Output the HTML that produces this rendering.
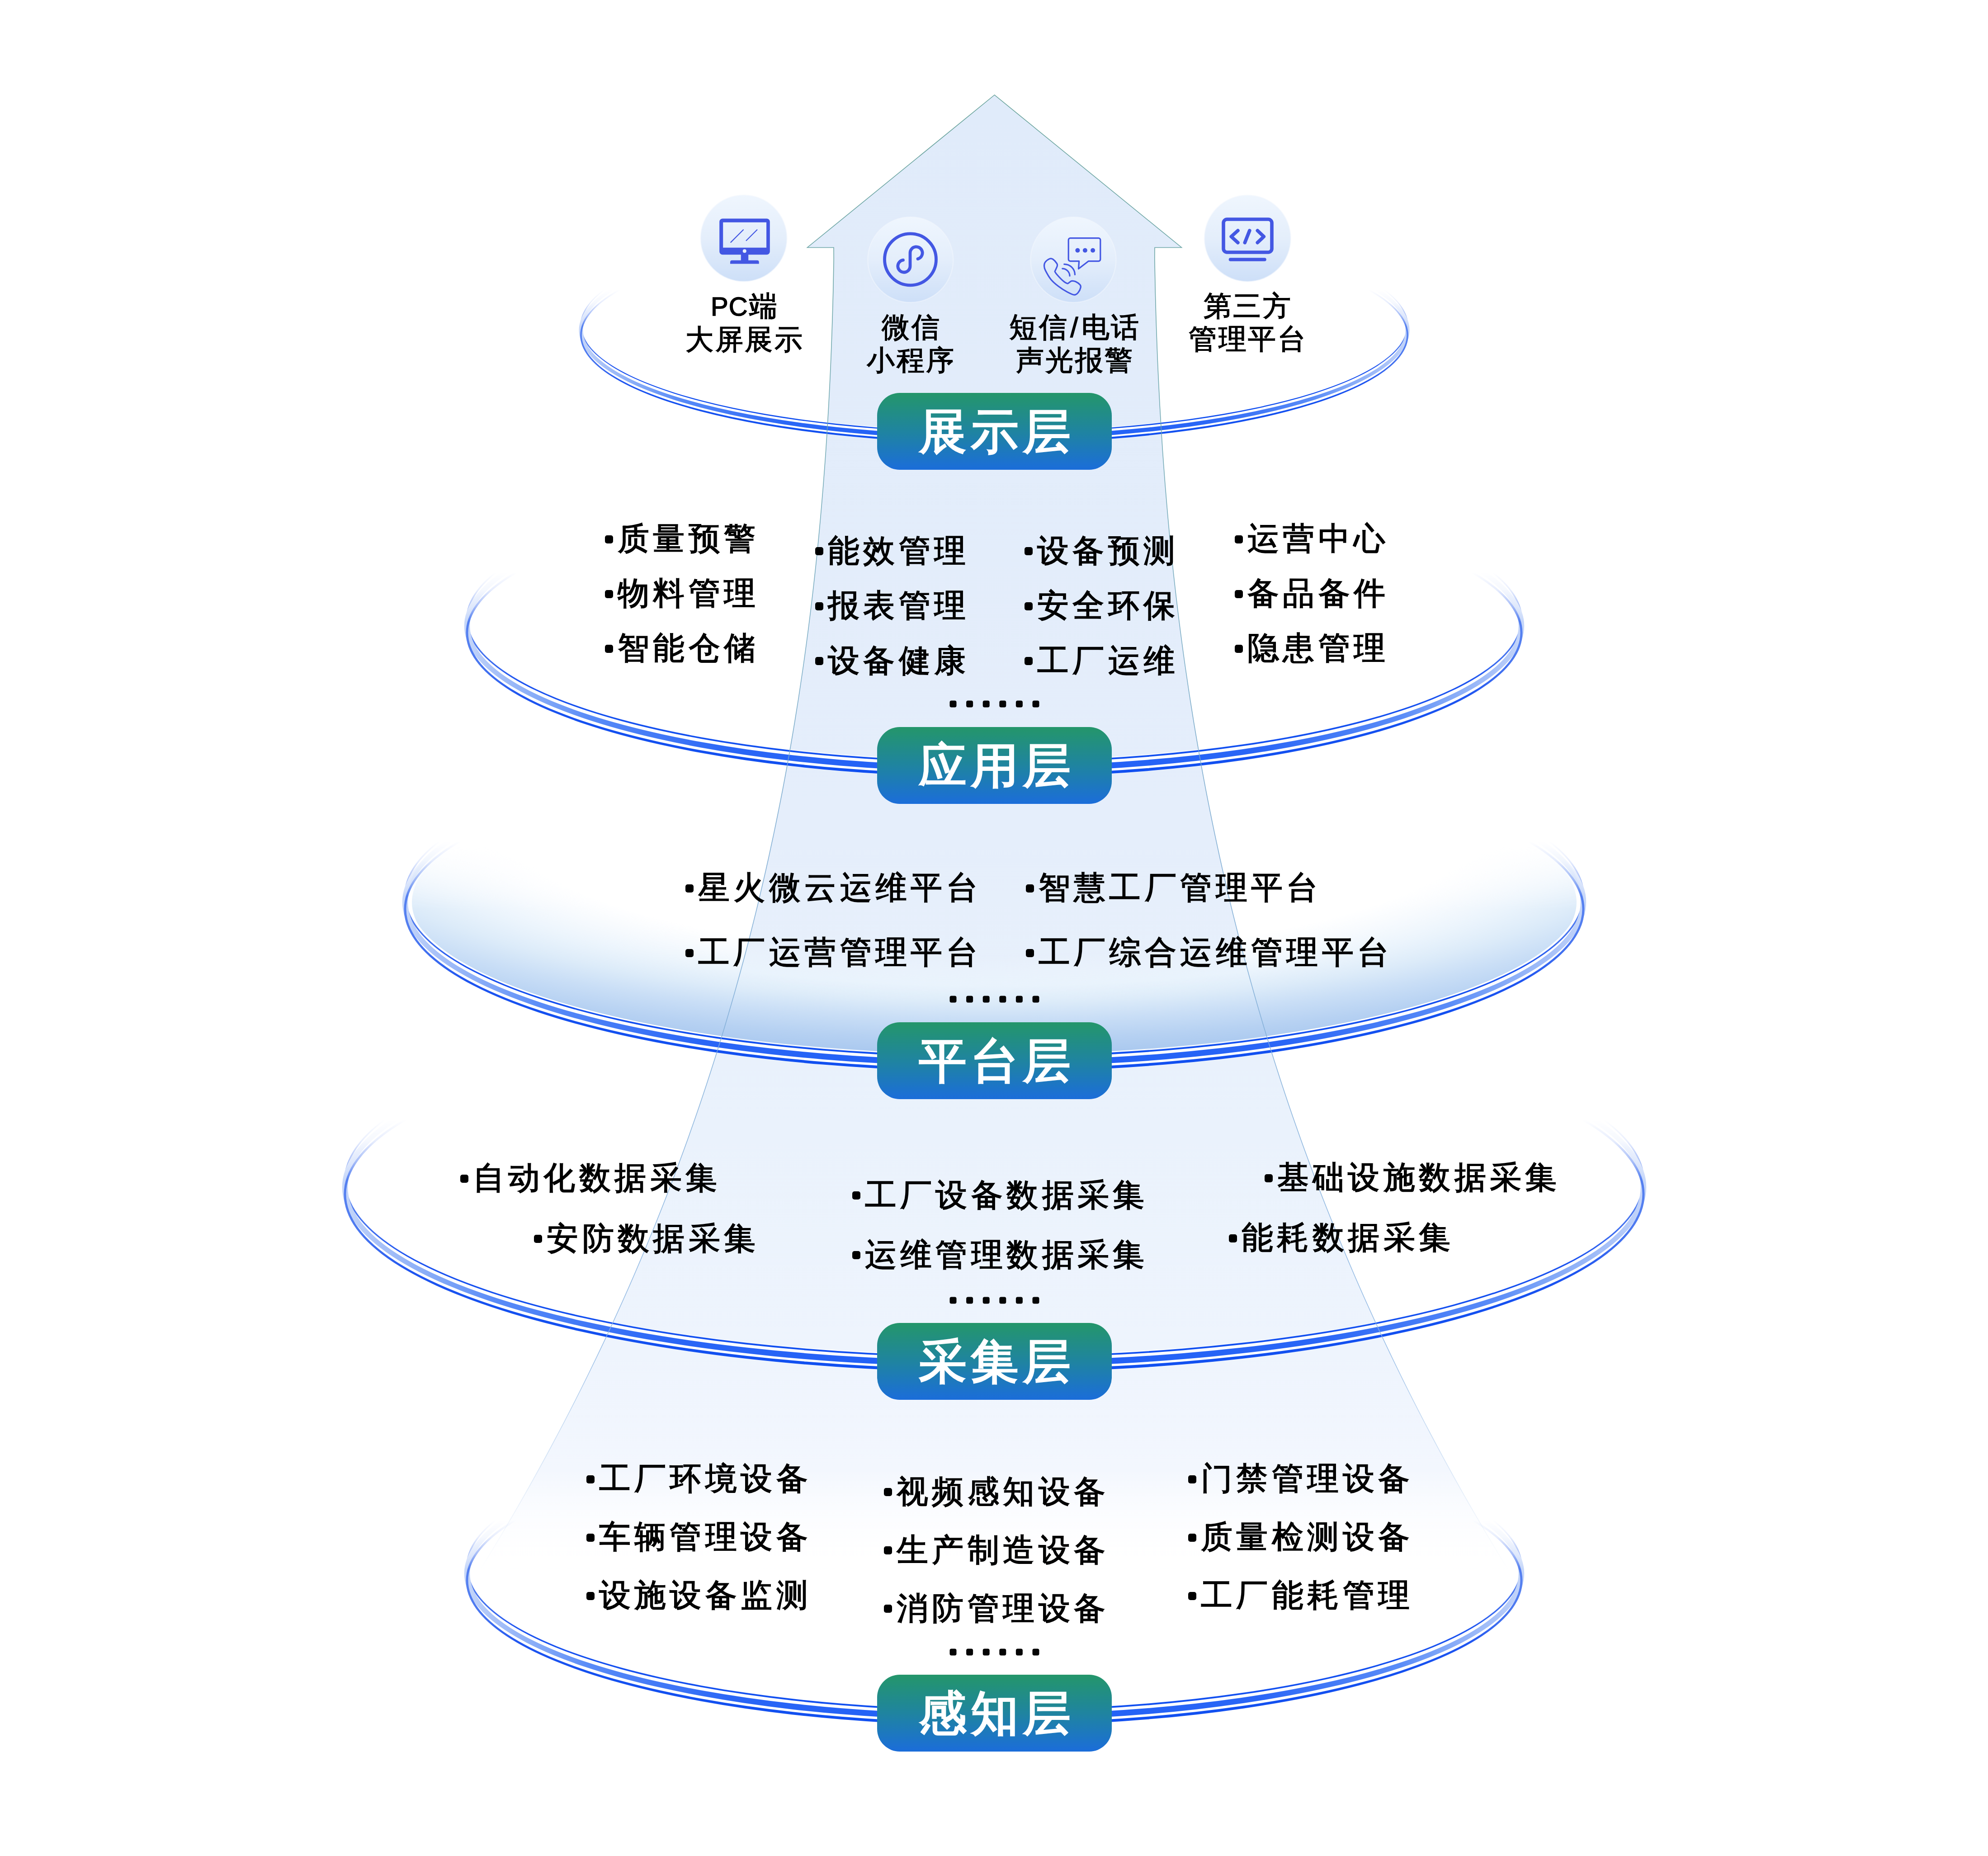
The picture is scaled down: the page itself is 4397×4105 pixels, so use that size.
<!DOCTYPE html>
<html><head><meta charset="utf-8"><style>
html,body{margin:0;padding:0;background:#fff;width:4397px;height:4105px;overflow:hidden;position:relative;font-family:"Liberation Sans",sans-serif;}
.li{position:absolute;white-space:nowrap;font-size:70px;line-height:100px;height:100px;margin-top:-52px;font-weight:400;letter-spacing:8.4px;color:#000;-webkit-text-stroke:1.8px #000;}
.li i{display:inline-block;width:18px;height:18px;border-radius:5px;background:#000;vertical-align:middle;margin-right:10px;position:relative;top:-4px;-webkit-text-stroke:0}
.bt{position:absolute;text-align:center;font-size:106px;line-height:170px;font-weight:700;color:#fff;letter-spacing:9px;}
.lab{position:absolute;width:400px;text-align:center;font-size:62px;line-height:73px;font-weight:400;letter-spacing:3.5px;color:#000;-webkit-text-stroke:1.5px #000;}
</style></head><body>
<svg xmlns="http://www.w3.org/2000/svg" width="4397" height="4105" viewBox="0 0 4397 4105" style="position:absolute;left:0;top:0"><defs><linearGradient id="arrF" x1="0" y1="210" x2="0" y2="3480" gradientUnits="userSpaceOnUse">
<stop offset="0" stop-color="#e0ebfa"/><stop offset="0.5" stop-color="#e5eefb"/><stop offset="0.7" stop-color="#eaf2fc"/><stop offset="0.85" stop-color="#eef4fd"/><stop offset="0.93" stop-color="#f3f7fe"/><stop offset="1" stop-color="#ffffff" stop-opacity="0"/></linearGradient>
<linearGradient id="arrS" x1="0" y1="210" x2="0" y2="3480" gradientUnits="userSpaceOnUse">
<stop offset="0" stop-color="#5a9a90"/><stop offset="0.25" stop-color="#6aa4b0"/><stop offset="0.5" stop-color="#7aa9d0"/><stop offset="0.85" stop-color="#8db6e3"/><stop offset="1" stop-color="#cfe0f5" stop-opacity="0"/></linearGradient>
<radialGradient id="discF" gradientUnits="userSpaceOnUse" cx="2199" cy="1820" r="530" gradientTransform="translate(2199 1820) scale(3.679 1) translate(-2199 -1820)">
<stop offset="0" stop-color="#eef5fd" stop-opacity="0"/><stop offset="0.55" stop-color="#eef5fd" stop-opacity="0"/><stop offset="0.68" stop-color="#e9f3fc" stop-opacity="0.9"/><stop offset="0.75" stop-color="#dcebf9"/><stop offset="0.82" stop-color="#c9def6"/><stop offset="0.9" stop-color="#b6d1f2"/><stop offset="0.97" stop-color="#a9c8ef"/><stop offset="1" stop-color="#a8c8ef"/></radialGradient>
<linearGradient id="discM" x1="0" y1="1870" x2="0" y2="2010" gradientUnits="userSpaceOnUse"><stop offset="0" stop-color="#fff" stop-opacity="0"/><stop offset="1" stop-color="#fff" stop-opacity="1"/></linearGradient>
<mask id="discMask" maskUnits="userSpaceOnUse" x="0" y="0" width="4397" height="4105"><rect x="0" y="0" width="4397" height="4105" fill="url(#discM)"/></mask>
<linearGradient id="fade0" x1="0" y1="641" x2="0" y2="722" gradientUnits="userSpaceOnUse">
<stop offset="0" stop-color="#fff" stop-opacity="0"/><stop offset="0.35" stop-color="#fff" stop-opacity="0.12"/><stop offset="0.7" stop-color="#fff" stop-opacity="0.5"/><stop offset="1" stop-color="#fff" stop-opacity="1"/></linearGradient>
<mask id="m0" maskUnits="userSpaceOnUse" x="0" y="0" width="4397" height="4105"><rect x="0" y="0" width="4397" height="4105" fill="url(#fade0)"/></mask>
<linearGradient id="band0" x1="1285" y1="0" x2="3113" y2="0" gradientUnits="userSpaceOnUse">
<stop offset="0" stop-color="#c5d6f9"/><stop offset="0.025" stop-color="#a9c2f8"/><stop offset="0.075" stop-color="#7fa6f7"/><stop offset="0.115" stop-color="#5a8cf7"/><stop offset="0.25" stop-color="#2a66f6"/><stop offset="0.5" stop-color="#1f5ff6"/><stop offset="0.75" stop-color="#2a66f6"/><stop offset="0.885" stop-color="#5a8cf7"/><stop offset="0.925" stop-color="#7fa6f7"/><stop offset="0.975" stop-color="#a9c2f8"/><stop offset="1" stop-color="#c5d6f9"/></linearGradient>
<linearGradient id="ln0" x1="1285" y1="0" x2="3113" y2="0" gradientUnits="userSpaceOnUse">
<stop offset="0" stop-color="#5580f0"/><stop offset="0.05" stop-color="#1f55f0"/><stop offset="0.115" stop-color="#1450f0"/><stop offset="0.5" stop-color="#1050f0"/><stop offset="0.885" stop-color="#1450f0"/><stop offset="0.95" stop-color="#1f55f0"/><stop offset="1" stop-color="#5580f0"/></linearGradient>

<linearGradient id="fade1" x1="0" y1="1266" x2="0" y2="1374" gradientUnits="userSpaceOnUse">
<stop offset="0" stop-color="#fff" stop-opacity="0"/><stop offset="0.35" stop-color="#fff" stop-opacity="0.12"/><stop offset="0.7" stop-color="#fff" stop-opacity="0.5"/><stop offset="1" stop-color="#fff" stop-opacity="1"/></linearGradient>
<mask id="m1" maskUnits="userSpaceOnUse" x="0" y="0" width="4397" height="4105"><rect x="0" y="0" width="4397" height="4105" fill="url(#fade1)"/></mask>
<linearGradient id="band1" x1="1033" y1="0" x2="3365" y2="0" gradientUnits="userSpaceOnUse">
<stop offset="0" stop-color="#c5d6f9"/><stop offset="0.025" stop-color="#a9c2f8"/><stop offset="0.075" stop-color="#7fa6f7"/><stop offset="0.115" stop-color="#5a8cf7"/><stop offset="0.25" stop-color="#2a66f6"/><stop offset="0.5" stop-color="#1f5ff6"/><stop offset="0.75" stop-color="#2a66f6"/><stop offset="0.885" stop-color="#5a8cf7"/><stop offset="0.925" stop-color="#7fa6f7"/><stop offset="0.975" stop-color="#a9c2f8"/><stop offset="1" stop-color="#c5d6f9"/></linearGradient>
<linearGradient id="ln1" x1="1033" y1="0" x2="3365" y2="0" gradientUnits="userSpaceOnUse">
<stop offset="0" stop-color="#5580f0"/><stop offset="0.05" stop-color="#1f55f0"/><stop offset="0.115" stop-color="#1450f0"/><stop offset="0.5" stop-color="#1050f0"/><stop offset="0.885" stop-color="#1450f0"/><stop offset="0.95" stop-color="#1f55f0"/><stop offset="1" stop-color="#5580f0"/></linearGradient>

<linearGradient id="fade2" x1="0" y1="1861" x2="0" y2="1982" gradientUnits="userSpaceOnUse">
<stop offset="0" stop-color="#fff" stop-opacity="0"/><stop offset="0.35" stop-color="#fff" stop-opacity="0.12"/><stop offset="0.7" stop-color="#fff" stop-opacity="0.5"/><stop offset="1" stop-color="#fff" stop-opacity="1"/></linearGradient>
<mask id="m2" maskUnits="userSpaceOnUse" x="0" y="0" width="4397" height="4105"><rect x="0" y="0" width="4397" height="4105" fill="url(#fade2)"/></mask>
<linearGradient id="band2" x1="896" y1="0" x2="3502" y2="0" gradientUnits="userSpaceOnUse">
<stop offset="0" stop-color="#c5d6f9"/><stop offset="0.025" stop-color="#a9c2f8"/><stop offset="0.075" stop-color="#7fa6f7"/><stop offset="0.115" stop-color="#5a8cf7"/><stop offset="0.25" stop-color="#2a66f6"/><stop offset="0.5" stop-color="#1f5ff6"/><stop offset="0.75" stop-color="#2a66f6"/><stop offset="0.885" stop-color="#5a8cf7"/><stop offset="0.925" stop-color="#7fa6f7"/><stop offset="0.975" stop-color="#a9c2f8"/><stop offset="1" stop-color="#c5d6f9"/></linearGradient>
<linearGradient id="ln2" x1="896" y1="0" x2="3502" y2="0" gradientUnits="userSpaceOnUse">
<stop offset="0" stop-color="#5580f0"/><stop offset="0.05" stop-color="#1f55f0"/><stop offset="0.115" stop-color="#1450f0"/><stop offset="0.5" stop-color="#1050f0"/><stop offset="0.885" stop-color="#1450f0"/><stop offset="0.95" stop-color="#1f55f0"/><stop offset="1" stop-color="#5580f0"/></linearGradient>

<linearGradient id="fade3" x1="0" y1="2477" x2="0" y2="2610" gradientUnits="userSpaceOnUse">
<stop offset="0" stop-color="#fff" stop-opacity="0"/><stop offset="0.35" stop-color="#fff" stop-opacity="0.12"/><stop offset="0.7" stop-color="#fff" stop-opacity="0.5"/><stop offset="1" stop-color="#fff" stop-opacity="1"/></linearGradient>
<mask id="m3" maskUnits="userSpaceOnUse" x="0" y="0" width="4397" height="4105"><rect x="0" y="0" width="4397" height="4105" fill="url(#fade3)"/></mask>
<linearGradient id="band3" x1="763" y1="0" x2="3635" y2="0" gradientUnits="userSpaceOnUse">
<stop offset="0" stop-color="#c5d6f9"/><stop offset="0.025" stop-color="#a9c2f8"/><stop offset="0.075" stop-color="#7fa6f7"/><stop offset="0.115" stop-color="#5a8cf7"/><stop offset="0.25" stop-color="#2a66f6"/><stop offset="0.5" stop-color="#1f5ff6"/><stop offset="0.75" stop-color="#2a66f6"/><stop offset="0.885" stop-color="#5a8cf7"/><stop offset="0.925" stop-color="#7fa6f7"/><stop offset="0.975" stop-color="#a9c2f8"/><stop offset="1" stop-color="#c5d6f9"/></linearGradient>
<linearGradient id="ln3" x1="763" y1="0" x2="3635" y2="0" gradientUnits="userSpaceOnUse">
<stop offset="0" stop-color="#5580f0"/><stop offset="0.05" stop-color="#1f55f0"/><stop offset="0.115" stop-color="#1450f0"/><stop offset="0.5" stop-color="#1050f0"/><stop offset="0.885" stop-color="#1450f0"/><stop offset="0.95" stop-color="#1f55f0"/><stop offset="1" stop-color="#5580f0"/></linearGradient>

<linearGradient id="fade4" x1="0" y1="3362" x2="0" y2="3470" gradientUnits="userSpaceOnUse">
<stop offset="0" stop-color="#fff" stop-opacity="0"/><stop offset="0.35" stop-color="#fff" stop-opacity="0.12"/><stop offset="0.7" stop-color="#fff" stop-opacity="0.5"/><stop offset="1" stop-color="#fff" stop-opacity="1"/></linearGradient>
<mask id="m4" maskUnits="userSpaceOnUse" x="0" y="0" width="4397" height="4105"><rect x="0" y="0" width="4397" height="4105" fill="url(#fade4)"/></mask>
<linearGradient id="band4" x1="1033" y1="0" x2="3365" y2="0" gradientUnits="userSpaceOnUse">
<stop offset="0" stop-color="#c5d6f9"/><stop offset="0.025" stop-color="#a9c2f8"/><stop offset="0.075" stop-color="#7fa6f7"/><stop offset="0.115" stop-color="#5a8cf7"/><stop offset="0.25" stop-color="#2a66f6"/><stop offset="0.5" stop-color="#1f5ff6"/><stop offset="0.75" stop-color="#2a66f6"/><stop offset="0.885" stop-color="#5a8cf7"/><stop offset="0.925" stop-color="#7fa6f7"/><stop offset="0.975" stop-color="#a9c2f8"/><stop offset="1" stop-color="#c5d6f9"/></linearGradient>
<linearGradient id="ln4" x1="1033" y1="0" x2="3365" y2="0" gradientUnits="userSpaceOnUse">
<stop offset="0" stop-color="#5580f0"/><stop offset="0.05" stop-color="#1f55f0"/><stop offset="0.115" stop-color="#1450f0"/><stop offset="0.5" stop-color="#1050f0"/><stop offset="0.885" stop-color="#1450f0"/><stop offset="0.95" stop-color="#1f55f0"/><stop offset="1" stop-color="#5580f0"/></linearGradient>

<linearGradient id="icF" x1="0" y1="0" x2="0" y2="1">
<stop offset="0" stop-color="#eff6fe"/><stop offset="0.5" stop-color="#e4eefb"/><stop offset="1" stop-color="#cddff8"/></linearGradient>
<linearGradient id="bdg" x1="0" y1="0" x2="0" y2="1">
<stop offset="0" stop-color="#24966a"/><stop offset="0.5" stop-color="#1f84a0"/><stop offset="1" stop-color="#1b6dda"/></linearGradient></defs><path d="M 2199.6 210.0 L 1785.5 547.5 L 1844.0 547.5 L 1844.2 572.0 L 1843.7 597.0 L 1843.2 622.0 L 1842.7 647.0 L 1842.0 672.0 L 1841.3 697.0 L 1840.5 722.0 L 1839.6 747.0 L 1838.7 772.0 L 1837.7 797.0 L 1836.6 822.0 L 1835.4 847.0 L 1834.1 872.0 L 1832.8 897.0 L 1831.3 922.0 L 1829.8 947.0 L 1828.2 972.0 L 1826.6 997.0 L 1824.8 1022.0 L 1822.9 1047.0 L 1821.0 1072.0 L 1818.9 1097.0 L 1816.8 1122.0 L 1814.6 1147.0 L 1812.3 1172.0 L 1809.9 1197.0 L 1807.4 1222.0 L 1804.8 1247.0 L 1802.1 1272.0 L 1799.3 1297.0 L 1796.4 1322.0 L 1793.4 1347.0 L 1790.3 1372.0 L 1787.1 1397.0 L 1783.8 1422.0 L 1780.4 1447.0 L 1776.9 1472.0 L 1773.2 1497.0 L 1769.5 1522.0 L 1765.7 1547.0 L 1761.7 1572.0 L 1757.7 1597.0 L 1753.5 1622.0 L 1749.2 1647.0 L 1744.8 1672.0 L 1740.3 1697.0 L 1735.7 1722.0 L 1731.0 1747.0 L 1726.1 1772.0 L 1721.1 1797.0 L 1716.0 1822.0 L 1710.8 1847.0 L 1705.4 1872.0 L 1700.0 1897.0 L 1694.4 1922.0 L 1688.7 1947.0 L 1682.8 1972.0 L 1676.9 1997.0 L 1670.8 2022.0 L 1664.5 2047.0 L 1658.2 2072.0 L 1651.7 2097.0 L 1645.1 2122.0 L 1638.3 2147.0 L 1631.4 2172.0 L 1624.4 2197.0 L 1617.2 2222.0 L 1609.9 2247.0 L 1602.5 2272.0 L 1594.9 2297.0 L 1587.2 2322.0 L 1579.3 2347.0 L 1571.3 2372.0 L 1563.2 2397.0 L 1554.9 2422.0 L 1546.5 2447.0 L 1537.9 2472.0 L 1529.1 2497.0 L 1520.3 2522.0 L 1511.2 2547.0 L 1502.0 2572.0 L 1492.7 2597.0 L 1483.2 2622.0 L 1473.6 2647.0 L 1463.8 2672.0 L 1453.8 2697.0 L 1443.7 2722.0 L 1433.4 2747.0 L 1423.0 2772.0 L 1412.4 2797.0 L 1401.7 2822.0 L 1390.8 2847.0 L 1379.7 2872.0 L 1368.4 2897.0 L 1357.0 2922.0 L 1345.5 2947.0 L 1333.7 2972.0 L 1321.8 2997.0 L 1309.7 3022.0 L 1297.5 3047.0 L 1285.1 3072.0 L 1272.5 3097.0 L 1259.7 3122.0 L 1246.8 3147.0 L 1233.6 3172.0 L 1220.3 3197.0 L 1206.9 3222.0 L 1193.2 3247.0 L 1179.4 3272.0 L 1165.4 3297.0 L 1151.2 3322.0 L 1136.8 3347.0 L 1122.2 3372.0 L 1107.5 3397.0 L 1092.5 3422.0 L 1077.4 3447.0 L 1063.3 3470.0 L 3334.7 3470.0 L 3334.7 3470.0 L 3320.6 3447.0 L 3305.5 3422.0 L 3290.5 3397.0 L 3275.8 3372.0 L 3261.2 3347.0 L 3246.8 3322.0 L 3232.6 3297.0 L 3218.6 3272.0 L 3204.8 3247.0 L 3191.1 3222.0 L 3177.7 3197.0 L 3164.4 3172.0 L 3151.2 3147.0 L 3138.3 3122.0 L 3125.5 3097.0 L 3112.9 3072.0 L 3100.5 3047.0 L 3088.3 3022.0 L 3076.2 2997.0 L 3064.3 2972.0 L 3052.5 2947.0 L 3041.0 2922.0 L 3029.6 2897.0 L 3018.3 2872.0 L 3007.2 2847.0 L 2996.3 2822.0 L 2985.6 2797.0 L 2975.0 2772.0 L 2964.6 2747.0 L 2954.3 2722.0 L 2944.2 2697.0 L 2934.2 2672.0 L 2924.4 2647.0 L 2914.8 2622.0 L 2905.3 2597.0 L 2896.0 2572.0 L 2886.8 2547.0 L 2877.7 2522.0 L 2868.9 2497.0 L 2860.1 2472.0 L 2851.5 2447.0 L 2843.1 2422.0 L 2834.8 2397.0 L 2826.7 2372.0 L 2818.7 2347.0 L 2810.8 2322.0 L 2803.1 2297.0 L 2795.5 2272.0 L 2788.1 2247.0 L 2780.8 2222.0 L 2773.6 2197.0 L 2766.6 2172.0 L 2759.7 2147.0 L 2752.9 2122.0 L 2746.3 2097.0 L 2739.8 2072.0 L 2733.5 2047.0 L 2727.2 2022.0 L 2721.1 1997.0 L 2715.2 1972.0 L 2709.3 1947.0 L 2703.6 1922.0 L 2698.0 1897.0 L 2692.6 1872.0 L 2687.2 1847.0 L 2682.0 1822.0 L 2676.9 1797.0 L 2671.9 1772.0 L 2667.0 1747.0 L 2662.3 1722.0 L 2657.7 1697.0 L 2653.2 1672.0 L 2648.8 1647.0 L 2644.5 1622.0 L 2640.3 1597.0 L 2636.3 1572.0 L 2632.3 1547.0 L 2628.5 1522.0 L 2624.8 1497.0 L 2621.1 1472.0 L 2617.6 1447.0 L 2614.2 1422.0 L 2610.9 1397.0 L 2607.7 1372.0 L 2604.6 1347.0 L 2601.6 1322.0 L 2598.7 1297.0 L 2595.9 1272.0 L 2593.2 1247.0 L 2590.6 1222.0 L 2588.1 1197.0 L 2585.7 1172.0 L 2583.4 1147.0 L 2581.2 1122.0 L 2579.1 1097.0 L 2577.0 1072.0 L 2575.1 1047.0 L 2573.2 1022.0 L 2571.4 997.0 L 2569.8 972.0 L 2568.2 947.0 L 2566.7 922.0 L 2565.2 897.0 L 2563.9 872.0 L 2562.6 847.0 L 2561.4 822.0 L 2560.3 797.0 L 2559.3 772.0 L 2558.4 747.0 L 2557.5 722.0 L 2556.7 697.0 L 2556.0 672.0 L 2555.3 647.0 L 2554.8 622.0 L 2554.3 597.0 L 2553.8 572.0 L 2554.0 547.5 L 2613.5 547.5 Z" fill="url(#arrF)"/>
<ellipse cx="2199" cy="1980.6" rx="1296" ry="351.3" fill="url(#discF)" mask="url(#discMask)"/>
<g mask="url(#m0)">
<path fill-rule="evenodd" fill="#ffffff" d="M 1274.20 730.20 A 924.80 250.68 0 1 0 3123.80 730.20 A 924.80 250.68 0 1 0 1274.20 730.20 Z M 1295.80 730.20 A 903.20 223.32 0 1 1 3102.20 730.20 A 903.20 223.32 0 1 1 1295.80 730.20 Z"/>
<path fill-rule="evenodd" fill="url(#ln0)" d="M 1283.70 719.40 A 915.30 238.44 0 1 0 3114.30 719.40 A 915.30 238.44 0 1 0 1283.70 719.40 Z M 1286.30 719.40 A 912.70 235.56 0 1 1 3111.70 719.40 A 912.70 235.56 0 1 1 1286.30 719.40 Z"/>
<path fill-rule="evenodd" fill="url(#band0)" d="M 1280.50 730.20 A 918.50 241.82 0 1 0 3117.50 730.20 A 918.50 241.82 0 1 0 1280.50 730.20 Z M 1289.50 730.20 A 909.50 232.18 0 1 1 3108.50 730.20 A 909.50 232.18 0 1 1 1289.50 730.20 Z"/>
<path fill-rule="evenodd" fill="url(#ln0)" d="M 1283.20 741.00 A 915.80 239.30 0 1 0 3114.80 741.00 A 915.80 239.30 0 1 0 1283.20 741.00 Z M 1286.80 741.00 A 912.20 234.70 0 1 1 3111.20 741.00 A 912.20 234.70 0 1 1 1286.80 741.00 Z"/>
</g>
<g mask="url(#m1)">
<path fill-rule="evenodd" fill="#ffffff" d="M 1018.00 1384.30 A 1181.00 335.40 0 1 0 3380.00 1384.30 A 1181.00 335.40 0 1 0 1018.00 1384.30 Z M 1048.00 1384.30 A 1151.00 297.40 0 1 1 3350.00 1384.30 A 1151.00 297.40 0 1 1 1048.00 1384.30 Z"/>
<path fill-rule="evenodd" fill="url(#ln1)" d="M 1031.20 1369.30 A 1167.80 318.40 0 1 0 3366.80 1369.30 A 1167.80 318.40 0 1 0 1031.20 1369.30 Z M 1034.80 1369.30 A 1164.20 314.40 0 1 1 3363.20 1369.30 A 1164.20 314.40 0 1 1 1034.80 1369.30 Z"/>
<path fill-rule="evenodd" fill="url(#band1)" d="M 1026.75 1384.30 A 1172.25 323.10 0 1 0 3371.25 1384.30 A 1172.25 323.10 0 1 0 1026.75 1384.30 Z M 1039.25 1384.30 A 1159.75 309.70 0 1 1 3358.75 1384.30 A 1159.75 309.70 0 1 1 1039.25 1384.30 Z"/>
<path fill-rule="evenodd" fill="url(#ln1)" d="M 1030.50 1399.30 A 1168.50 319.60 0 1 0 3367.50 1399.30 A 1168.50 319.60 0 1 0 1030.50 1399.30 Z M 1035.50 1399.30 A 1163.50 313.20 0 1 1 3362.50 1399.30 A 1163.50 313.20 0 1 1 1035.50 1399.30 Z"/>
</g>
<g mask="url(#m2)">
<path fill-rule="evenodd" fill="#ffffff" d="M 881.00 1995.60 A 1318.00 375.30 0 1 0 3517.00 1995.60 A 1318.00 375.30 0 1 0 881.00 1995.60 Z M 911.00 1995.60 A 1288.00 337.30 0 1 1 3487.00 1995.60 A 1288.00 337.30 0 1 1 911.00 1995.60 Z"/>
<path fill-rule="evenodd" fill="url(#ln2)" d="M 894.20 1980.60 A 1304.80 358.30 0 1 0 3503.80 1980.60 A 1304.80 358.30 0 1 0 894.20 1980.60 Z M 897.80 1980.60 A 1301.20 354.30 0 1 1 3500.20 1980.60 A 1301.20 354.30 0 1 1 897.80 1980.60 Z"/>
<path fill-rule="evenodd" fill="url(#band2)" d="M 889.75 1995.60 A 1309.25 363.00 0 1 0 3508.25 1995.60 A 1309.25 363.00 0 1 0 889.75 1995.60 Z M 902.25 1995.60 A 1296.75 349.60 0 1 1 3495.75 1995.60 A 1296.75 349.60 0 1 1 902.25 1995.60 Z"/>
<path fill-rule="evenodd" fill="url(#ln2)" d="M 893.50 2010.60 A 1305.50 359.50 0 1 0 3504.50 2010.60 A 1305.50 359.50 0 1 0 893.50 2010.60 Z M 898.50 2010.60 A 1300.50 353.10 0 1 1 3499.50 2010.60 A 1300.50 353.10 0 1 1 898.50 2010.60 Z"/>
</g>
<g mask="url(#m3)">
<path fill-rule="evenodd" fill="#ffffff" d="M 748.00 2626.00 A 1451.00 409.40 0 1 0 3650.00 2626.00 A 1451.00 409.40 0 1 0 748.00 2626.00 Z M 778.00 2626.00 A 1421.00 371.40 0 1 1 3620.00 2626.00 A 1421.00 371.40 0 1 1 778.00 2626.00 Z"/>
<path fill-rule="evenodd" fill="url(#ln3)" d="M 761.20 2611.00 A 1437.80 392.40 0 1 0 3636.80 2611.00 A 1437.80 392.40 0 1 0 761.20 2611.00 Z M 764.80 2611.00 A 1434.20 388.40 0 1 1 3633.20 2611.00 A 1434.20 388.40 0 1 1 764.80 2611.00 Z"/>
<path fill-rule="evenodd" fill="url(#band3)" d="M 756.75 2626.00 A 1442.25 397.10 0 1 0 3641.25 2626.00 A 1442.25 397.10 0 1 0 756.75 2626.00 Z M 769.25 2626.00 A 1429.75 383.70 0 1 1 3628.75 2626.00 A 1429.75 383.70 0 1 1 769.25 2626.00 Z"/>
<path fill-rule="evenodd" fill="url(#ln3)" d="M 760.50 2641.00 A 1438.50 393.60 0 1 0 3637.50 2641.00 A 1438.50 393.60 0 1 0 760.50 2641.00 Z M 765.50 2641.00 A 1433.50 387.20 0 1 1 3632.50 2641.00 A 1433.50 387.20 0 1 1 765.50 2641.00 Z"/>
</g>
<g mask="url(#m4)">
<path fill-rule="evenodd" fill="#ffffff" d="M 1018.00 3480.30 A 1181.00 337.10 0 1 0 3380.00 3480.30 A 1181.00 337.10 0 1 0 1018.00 3480.30 Z M 1048.00 3480.30 A 1151.00 299.10 0 1 1 3350.00 3480.30 A 1151.00 299.10 0 1 1 1048.00 3480.30 Z"/>
<path fill-rule="evenodd" fill="url(#ln4)" d="M 1031.20 3465.30 A 1167.80 320.10 0 1 0 3366.80 3465.30 A 1167.80 320.10 0 1 0 1031.20 3465.30 Z M 1034.80 3465.30 A 1164.20 316.10 0 1 1 3363.20 3465.30 A 1164.20 316.10 0 1 1 1034.80 3465.30 Z"/>
<path fill-rule="evenodd" fill="url(#band4)" d="M 1026.75 3480.30 A 1172.25 324.80 0 1 0 3371.25 3480.30 A 1172.25 324.80 0 1 0 1026.75 3480.30 Z M 1039.25 3480.30 A 1159.75 311.40 0 1 1 3358.75 3480.30 A 1159.75 311.40 0 1 1 1039.25 3480.30 Z"/>
<path fill-rule="evenodd" fill="url(#ln4)" d="M 1030.50 3495.30 A 1168.50 321.30 0 1 0 3367.50 3495.30 A 1168.50 321.30 0 1 0 1030.50 3495.30 Z M 1035.50 3495.30 A 1163.50 314.90 0 1 1 3362.50 3495.30 A 1163.50 314.90 0 1 1 1035.50 3495.30 Z"/>
</g>
<path d="M 2199.6 210.0 L 1785.5 547.5 L 1844.0 547.5 L 1844.2 572.0 L 1843.7 597.0 L 1843.2 622.0 L 1842.7 647.0 L 1842.0 672.0 L 1841.3 697.0 L 1840.5 722.0 L 1839.6 747.0 L 1838.7 772.0 L 1837.7 797.0 L 1836.6 822.0 L 1835.4 847.0 L 1834.1 872.0 L 1832.8 897.0 L 1831.3 922.0 L 1829.8 947.0 L 1828.2 972.0 L 1826.6 997.0 L 1824.8 1022.0 L 1822.9 1047.0 L 1821.0 1072.0 L 1818.9 1097.0 L 1816.8 1122.0 L 1814.6 1147.0 L 1812.3 1172.0 L 1809.9 1197.0 L 1807.4 1222.0 L 1804.8 1247.0 L 1802.1 1272.0 L 1799.3 1297.0 L 1796.4 1322.0 L 1793.4 1347.0 L 1790.3 1372.0 L 1787.1 1397.0 L 1783.8 1422.0 L 1780.4 1447.0 L 1776.9 1472.0 L 1773.2 1497.0 L 1769.5 1522.0 L 1765.7 1547.0 L 1761.7 1572.0 L 1757.7 1597.0 L 1753.5 1622.0 L 1749.2 1647.0 L 1744.8 1672.0 L 1740.3 1697.0 L 1735.7 1722.0 L 1731.0 1747.0 L 1726.1 1772.0 L 1721.1 1797.0 L 1716.0 1822.0 L 1710.8 1847.0 L 1705.4 1872.0 L 1700.0 1897.0 L 1694.4 1922.0 L 1688.7 1947.0 L 1682.8 1972.0 L 1676.9 1997.0 L 1670.8 2022.0 L 1664.5 2047.0 L 1658.2 2072.0 L 1651.7 2097.0 L 1645.1 2122.0 L 1638.3 2147.0 L 1631.4 2172.0 L 1624.4 2197.0 L 1617.2 2222.0 L 1609.9 2247.0 L 1602.5 2272.0 L 1594.9 2297.0 L 1587.2 2322.0 L 1579.3 2347.0 L 1571.3 2372.0 L 1563.2 2397.0 L 1554.9 2422.0 L 1546.5 2447.0 L 1537.9 2472.0 L 1529.1 2497.0 L 1520.3 2522.0 L 1511.2 2547.0 L 1502.0 2572.0 L 1492.7 2597.0 L 1483.2 2622.0 L 1473.6 2647.0 L 1463.8 2672.0 L 1453.8 2697.0 L 1443.7 2722.0 L 1433.4 2747.0 L 1423.0 2772.0 L 1412.4 2797.0 L 1401.7 2822.0 L 1390.8 2847.0 L 1379.7 2872.0 L 1368.4 2897.0 L 1357.0 2922.0 L 1345.5 2947.0 L 1333.7 2972.0 L 1321.8 2997.0 L 1309.7 3022.0 L 1297.5 3047.0 L 1285.1 3072.0 L 1272.5 3097.0 L 1259.7 3122.0 L 1246.8 3147.0 L 1233.6 3172.0 L 1220.3 3197.0 L 1206.9 3222.0 L 1193.2 3247.0 L 1179.4 3272.0 L 1165.4 3297.0 L 1151.2 3322.0 L 1136.8 3347.0 L 1122.2 3372.0 L 1107.5 3397.0 L 1092.5 3422.0 L 1077.4 3447.0 L 1063.3 3470.0 L 3334.7 3470.0 L 3334.7 3470.0 L 3320.6 3447.0 L 3305.5 3422.0 L 3290.5 3397.0 L 3275.8 3372.0 L 3261.2 3347.0 L 3246.8 3322.0 L 3232.6 3297.0 L 3218.6 3272.0 L 3204.8 3247.0 L 3191.1 3222.0 L 3177.7 3197.0 L 3164.4 3172.0 L 3151.2 3147.0 L 3138.3 3122.0 L 3125.5 3097.0 L 3112.9 3072.0 L 3100.5 3047.0 L 3088.3 3022.0 L 3076.2 2997.0 L 3064.3 2972.0 L 3052.5 2947.0 L 3041.0 2922.0 L 3029.6 2897.0 L 3018.3 2872.0 L 3007.2 2847.0 L 2996.3 2822.0 L 2985.6 2797.0 L 2975.0 2772.0 L 2964.6 2747.0 L 2954.3 2722.0 L 2944.2 2697.0 L 2934.2 2672.0 L 2924.4 2647.0 L 2914.8 2622.0 L 2905.3 2597.0 L 2896.0 2572.0 L 2886.8 2547.0 L 2877.7 2522.0 L 2868.9 2497.0 L 2860.1 2472.0 L 2851.5 2447.0 L 2843.1 2422.0 L 2834.8 2397.0 L 2826.7 2372.0 L 2818.7 2347.0 L 2810.8 2322.0 L 2803.1 2297.0 L 2795.5 2272.0 L 2788.1 2247.0 L 2780.8 2222.0 L 2773.6 2197.0 L 2766.6 2172.0 L 2759.7 2147.0 L 2752.9 2122.0 L 2746.3 2097.0 L 2739.8 2072.0 L 2733.5 2047.0 L 2727.2 2022.0 L 2721.1 1997.0 L 2715.2 1972.0 L 2709.3 1947.0 L 2703.6 1922.0 L 2698.0 1897.0 L 2692.6 1872.0 L 2687.2 1847.0 L 2682.0 1822.0 L 2676.9 1797.0 L 2671.9 1772.0 L 2667.0 1747.0 L 2662.3 1722.0 L 2657.7 1697.0 L 2653.2 1672.0 L 2648.8 1647.0 L 2644.5 1622.0 L 2640.3 1597.0 L 2636.3 1572.0 L 2632.3 1547.0 L 2628.5 1522.0 L 2624.8 1497.0 L 2621.1 1472.0 L 2617.6 1447.0 L 2614.2 1422.0 L 2610.9 1397.0 L 2607.7 1372.0 L 2604.6 1347.0 L 2601.6 1322.0 L 2598.7 1297.0 L 2595.9 1272.0 L 2593.2 1247.0 L 2590.6 1222.0 L 2588.1 1197.0 L 2585.7 1172.0 L 2583.4 1147.0 L 2581.2 1122.0 L 2579.1 1097.0 L 2577.0 1072.0 L 2575.1 1047.0 L 2573.2 1022.0 L 2571.4 997.0 L 2569.8 972.0 L 2568.2 947.0 L 2566.7 922.0 L 2565.2 897.0 L 2563.9 872.0 L 2562.6 847.0 L 2561.4 822.0 L 2560.3 797.0 L 2559.3 772.0 L 2558.4 747.0 L 2557.5 722.0 L 2556.7 697.0 L 2556.0 672.0 L 2555.3 647.0 L 2554.8 622.0 L 2554.3 597.0 L 2553.8 572.0 L 2554.0 547.5 L 2613.5 547.5 Z" fill="none" stroke="url(#arrS)" stroke-width="1.6" opacity="0.9"/>
<circle cx="1645.0" cy="527.0" r="95.5" fill="url(#icF)" stroke="#f4f8fe" stroke-width="2.5" stroke-opacity="0.5"/>
<circle cx="2013.8" cy="574.5" r="94.5" fill="url(#icF)" stroke="#f4f8fe" stroke-width="2.5" stroke-opacity="0.5"/>
<circle cx="2374.0" cy="574.5" r="94.5" fill="url(#icF)" stroke="#f4f8fe" stroke-width="2.5" stroke-opacity="0.5"/>
<circle cx="2759.3" cy="527.2" r="95.5" fill="url(#icF)" stroke="#f4f8fe" stroke-width="2.5" stroke-opacity="0.5"/>
<g fill="#4357e3"><path fill-rule="evenodd" d="M1598.2 483.4 H1695.8 A7 7 0 0 1 1702.8 490.4 V556.2 A7 7 0 0 1 1695.8 563.2 H1598.2 A7 7 0 0 1 1591.2 556.2 V490.4 A7 7 0 0 1 1598.2 483.4 Z M1599.2 491.8 V547.8 H1695.1 V491.8 Z"/><rect x="1638.8" y="562" width="16.4" height="15"/><path d="M1619 575.8 H1674.7 A4 4 0 0 1 1678.7 579.8 V583.5 H1615 V579.8 A4 4 0 0 1 1619 575.8 Z"/><circle cx="1646.8" cy="555.2" r="4" fill="#e8f0fc"/></g>
<g stroke="#4357e3" stroke-width="2.2" stroke-linecap="round"><line x1="1616.4" y1="535.9" x2="1644" y2="508.3"/><line x1="1650.6" y1="532" x2="1674.4" y2="508.3"/></g>
<g fill="none" stroke="#4357e3" stroke-width="6.8" stroke-linecap="round"><circle cx="2013.5" cy="573.8" r="57"/><path d="M1997.5 575.2 A13.6 13.6 0 1 0 2013 588.5 L2013 560.1 A13.6 13.6 0 1 1 2030 572.6"/></g>
<g fill="none" stroke="#4357e3" stroke-width="3.2" stroke-linecap="round" stroke-linejoin="round"><path d="M 2334.1 598.3 C 2334.9 596.2 2337.7 591.1 2338.3 588.5 C 2338.9 585.9 2339.2 585.5 2337.6 582.9 C 2336.0 580.3 2331.2 574.9 2328.5 573.1 C 2325.8 571.4 2324.2 571.2 2321.4 572.4 C 2318.6 573.6 2313.6 577.4 2311.6 580.1 C 2309.6 582.8 2309.4 585.5 2309.5 588.5 C 2309.6 591.5 2309.8 593.4 2312.3 598.3 C 2314.8 603.2 2319.5 612.1 2324.3 617.9 C 2329.1 623.7 2335.0 628.6 2341.1 633.3 C 2347.2 638.0 2354.9 642.8 2360.7 645.9 C 2366.5 649.0 2372.1 652.0 2376.1 652.2 C 2380.1 652.4 2382.2 650.0 2384.5 647.3 C 2386.8 644.6 2389.4 639.0 2390.1 636.1 C 2390.8 633.2 2390.6 632.0 2388.7 629.8 C 2386.8 627.6 2381.9 624.2 2378.9 622.8 C 2375.9 621.4 2372.8 621.1 2370.5 621.4 C 2368.2 621.7 2366.5 623.9 2364.9 624.8 C 2363.3 625.7 2362.8 627.5 2360.7 627.0 C 2358.6 626.5 2355.8 625.0 2352.3 622.1 C 2348.8 619.2 2342.8 613.0 2339.7 609.5 C 2336.5 606.0 2334.3 603.0 2333.4 601.1 C 2332.5 599.2 2333.3 600.4 2334.1 598.3 Z"/><path d="M2349.7 594.1 A16.3 16.3 0 0 1 2366 610.2"/><path d="M2353.7 584.3 A23.5 23.5 0 0 1 2377.5 607.4"/><path d="M2386.6 577.6 H2367.2 A4 4 0 0 1 2363.2 573.6 V530.7 A4 4 0 0 1 2367.2 526.7 H2429.8 A4 4 0 0 1 2433.8 530.7 V573.6 A4 4 0 0 1 2429.8 577.6 H2407.6 L2385.5 594.5 Z"/></g>
<g fill="#4357e3"><circle cx="2383.4" cy="553.8" r="5"/><circle cx="2399.9" cy="553.8" r="5"/><circle cx="2417.1" cy="553.8" r="5"/></g>
<g fill="none" stroke="#4357e3" stroke-width="7.6" stroke-linecap="round" stroke-linejoin="round"><rect x="2706" y="485" width="107" height="73" rx="8"/><line x1="2721.5" y1="574" x2="2797" y2="574"/><polyline points="2737.9,510 2723.2,523.3 2737.9,536.6"/><line x1="2763.8" y1="510" x2="2753.3" y2="536.6"/><polyline points="2781.3,510 2795.3,523.3 2781.3,536.6"/></g>
<rect x="1940" y="869" width="519" height="170" rx="50" fill="url(#bdg)"/>
<rect x="1940" y="1608" width="519" height="170" rx="50" fill="url(#bdg)"/>
<rect x="1940" y="2261" width="519" height="170" rx="50" fill="url(#bdg)"/>
<rect x="1940" y="2926" width="519" height="170" rx="50" fill="url(#bdg)"/>
<rect x="1940" y="3704" width="519" height="170" rx="50" fill="url(#bdg)"/>
<rect x="2100.5" y="1549.5" width="15" height="15" rx="4" fill="#050505"/>
<rect x="2137.1" y="1549.5" width="15" height="15" rx="4" fill="#050505"/>
<rect x="2173.7" y="1549.5" width="15" height="15" rx="4" fill="#050505"/>
<rect x="2210.3" y="1549.5" width="15" height="15" rx="4" fill="#050505"/>
<rect x="2246.9" y="1549.5" width="15" height="15" rx="4" fill="#050505"/>
<rect x="2283.5" y="1549.5" width="15" height="15" rx="4" fill="#050505"/>
<rect x="2100.5" y="2202.5" width="15" height="15" rx="4" fill="#050505"/>
<rect x="2137.1" y="2202.5" width="15" height="15" rx="4" fill="#050505"/>
<rect x="2173.7" y="2202.5" width="15" height="15" rx="4" fill="#050505"/>
<rect x="2210.3" y="2202.5" width="15" height="15" rx="4" fill="#050505"/>
<rect x="2246.9" y="2202.5" width="15" height="15" rx="4" fill="#050505"/>
<rect x="2283.5" y="2202.5" width="15" height="15" rx="4" fill="#050505"/>
<rect x="2100.5" y="2868.5" width="15" height="15" rx="4" fill="#050505"/>
<rect x="2137.1" y="2868.5" width="15" height="15" rx="4" fill="#050505"/>
<rect x="2173.7" y="2868.5" width="15" height="15" rx="4" fill="#050505"/>
<rect x="2210.3" y="2868.5" width="15" height="15" rx="4" fill="#050505"/>
<rect x="2246.9" y="2868.5" width="15" height="15" rx="4" fill="#050505"/>
<rect x="2283.5" y="2868.5" width="15" height="15" rx="4" fill="#050505"/>
<rect x="2100.5" y="3646.5" width="15" height="15" rx="4" fill="#050505"/>
<rect x="2137.1" y="3646.5" width="15" height="15" rx="4" fill="#050505"/>
<rect x="2173.7" y="3646.5" width="15" height="15" rx="4" fill="#050505"/>
<rect x="2210.3" y="3646.5" width="15" height="15" rx="4" fill="#050505"/>
<rect x="2246.9" y="3646.5" width="15" height="15" rx="4" fill="#050505"/>
<rect x="2283.5" y="3646.5" width="15" height="15" rx="4" fill="#050505"/></svg>
<div class="li" style="left:1338.0px;top:1193.0px"><i></i>质量预警</div>
<div class="li" style="left:1338.0px;top:1314.0px"><i></i>物料管理</div>
<div class="li" style="left:1338.0px;top:1435.0px"><i></i>智能仓储</div>
<div class="li" style="left:1803.0px;top:1219.5px"><i></i>能效管理</div>
<div class="li" style="left:1803.0px;top:1341.0px"><i></i>报表管理</div>
<div class="li" style="left:1803.0px;top:1462.5px"><i></i>设备健康</div>
<div class="li" style="left:2266.0px;top:1219.5px"><i></i>设备预测</div>
<div class="li" style="left:2266.0px;top:1341.0px"><i></i>安全环保</div>
<div class="li" style="left:2266.0px;top:1462.5px"><i></i>工厂运维</div>
<div class="li" style="left:2731.0px;top:1193.0px"><i></i>运营中心</div>
<div class="li" style="left:2731.0px;top:1314.0px"><i></i>备品备件</div>
<div class="li" style="left:2731.0px;top:1435.0px"><i></i>隐患管理</div>
<div class="li" style="left:1516.0px;top:1965.0px"><i></i>星火微云运维平台</div>
<div class="li" style="left:1516.0px;top:2108.0px"><i></i>工厂运营管理平台</div>
<div class="li" style="left:2268.6px;top:1965.0px"><i></i>智慧工厂管理平台</div>
<div class="li" style="left:2268.6px;top:2108.0px"><i></i>工厂综合运维管理平台</div>
<div class="li" style="left:1017.6px;top:2607.0px"><i></i>自动化数据采集</div>
<div class="li" style="left:1181.3px;top:2740.7px"><i></i>安防数据采集</div>
<div class="li" style="left:1884.6px;top:2644.5px"><i></i>工厂设备数据采集</div>
<div class="li" style="left:1884.6px;top:2776.5px"><i></i>运维管理数据采集</div>
<div class="li" style="left:2796.6px;top:2606.4px"><i></i>基础设施数据采集</div>
<div class="li" style="left:2718.1px;top:2739.2px"><i></i>能耗数据采集</div>
<div class="li" style="left:1296.6px;top:3272.4px"><i></i>工厂环境设备</div>
<div class="li" style="left:1296.6px;top:3401.4px"><i></i>车辆管理设备</div>
<div class="li" style="left:1296.6px;top:3530.4px"><i></i>设施设备监测</div>
<div class="li" style="left:1955.0px;top:3300.9px"><i></i>视频感知设备</div>
<div class="li" style="left:1955.0px;top:3429.9px"><i></i>生产制造设备</div>
<div class="li" style="left:1955.0px;top:3558.9px"><i></i>消防管理设备</div>
<div class="li" style="left:2628.1px;top:3272.4px"><i></i>门禁管理设备</div>
<div class="li" style="left:2628.1px;top:3401.4px"><i></i>质量检测设备</div>
<div class="li" style="left:2628.1px;top:3530.4px"><i></i>工厂能耗管理</div>
<div class="bt" style="left:1944.5px;top:869px;width:519px">展示层</div>
<div class="bt" style="left:1944.5px;top:1608px;width:519px">应用层</div>
<div class="bt" style="left:1944.5px;top:2261px;width:519px">平台层</div>
<div class="bt" style="left:1944.5px;top:2926px;width:519px">采集层</div>
<div class="bt" style="left:1944.5px;top:3704px;width:519px">感知层</div>
<div class="lab" style="left:1447.0px;top:640.0px"><span style="letter-spacing:1px;font-size:58px;margin-right:2px">PC</span>端<br>大屏展示</div>
<div class="lab" style="left:1815.5px;top:687.0px">微信<br>小程序</div>
<div class="lab" style="left:2177.5px;top:687.0px">短信<span style="margin:0 4px">/</span>电话<br>声光报警</div>
<div class="lab" style="left:2560.0px;top:640.0px">第三方<br>管理平台</div>
</body></html>
